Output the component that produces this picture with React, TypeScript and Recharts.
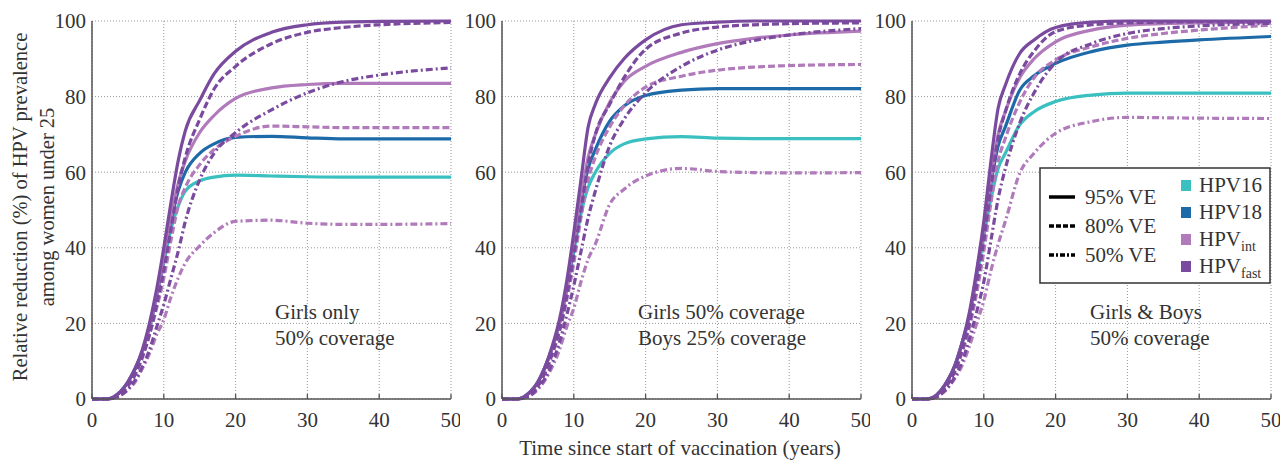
import React from "react";
import {
  LineChart,
  Line,
  XAxis,
  YAxis,
  CartesianGrid,
  Legend,
} from "recharts";

// sample years (x axis)
const years = [0, 2, 3, 4, 5, 6, 7, 8, 9, 10, 11, 12, 13, 15, 17, 20, 25, 30, 35, 40, 50];

// Panel 1 – Girls only, 50% coverage
const p1FastSolid = [0, 0, 0.5, 2, 4.5, 8, 13, 20, 29, 40, 52, 63, 71, 79, 86, 92, 97, 99, 99.7, 99.9, 100];
const p1FastDash = [0, 0, 0.3, 1.5, 3.5, 6.5, 11, 17, 25, 34, 45, 56, 64, 74, 82, 88, 94, 97, 98.3, 99, 99.6];
const p1FastDot = [0, 0, 0.2, 1, 2.5, 5, 8.5, 13, 19, 25, 32, 39, 47, 58, 65, 70.5, 76.5, 81, 84, 85.7, 87.6];
const p1IntSolid = [0, 0, 0.5, 2, 4.5, 8, 12.5, 19, 27, 37, 48, 57, 63, 70.5, 75, 79.5, 82.3, 83.2, 83.5, 83.5, 83.5];
const p1IntDash = [0, 0, 0.3, 1.5, 3.5, 6.5, 11, 17, 24, 32, 42, 51, 56, 62, 66, 69.5, 72.2, 72, 71.8, 71.8, 71.8];
const p1IntDot = [0, 0, 0.2, 1, 2.5, 4.5, 8, 12, 17, 21, 27, 32, 36, 40.5, 44, 47, 47.3, 46.5, 46.2, 46.2, 46.4];
const p1Hpv18 = [0, 0, 0.5, 2, 4.5, 8, 12.5, 19, 27, 37, 47, 55, 60, 65, 67.5, 69.2, 69.5, 69.1, 68.8, 68.8, 68.8];
const p1Hpv16 = [0, 0, 0.5, 2, 4.5, 8, 12.5, 19, 27, 36, 45, 51, 55, 57.7, 58.7, 59.2, 59, 58.8, 58.7, 58.7, 58.7];

// Panel 2 – Girls 50%, Boys 25% coverage
const p2FastSolid = [0, 0, 0.5, 2, 4.5, 8.5, 14, 21, 31, 44, 58, 72, 78, 85, 90, 95, 99, 99.7, 100, 100, 100];
const p2FastDash = [0, 0, 0.3, 1.5, 3.5, 7, 12, 18, 27, 38, 50, 62, 70, 78, 85, 92.5, 96.8, 98.4, 99, 99.3, 99.5];
const p2FastDot = [0, 0, 0.2, 1, 3, 5.5, 9.5, 15, 22, 30, 39, 48, 55, 67, 74, 81, 88, 92.3, 94.8, 96.3, 98];
const p2IntSolid = [0, 0, 0.5, 2, 4.5, 8.5, 13.5, 20, 29, 41, 53, 64, 70, 78.5, 84, 88, 91.7, 94, 95.4, 96.3, 97.3];
const p2IntDash = [0, 0, 0.3, 1.5, 3.5, 7, 12, 18, 26, 36, 48, 58, 64, 72, 77.5, 82.5, 85.4, 87, 87.8, 88.2, 88.5];
const p2IntDot = [0, 0, 0.2, 1, 2.5, 5, 8.5, 13, 19, 24, 31, 37, 41, 51.5, 55.5, 59, 61, 60.2, 59.9, 59.8, 59.9];
const p2Hpv18 = [0, 0, 0.5, 2, 4.5, 8.5, 13.5, 20, 29, 40, 52, 61, 66, 73.5, 77.5, 80.3, 81.7, 82.1, 82.1, 82.1, 82.1];
const p2Hpv16 = [0, 0, 0.5, 2, 4.5, 8.5, 13.5, 20, 29, 39, 49, 56, 60, 65, 67.5, 68.8, 69.4, 69, 68.9, 68.9, 68.9];

// Panel 3 – Girls & Boys, 50% coverage
const p3FastSolid = [0, 0, 0.5, 2.2, 5, 9, 15, 23, 34, 47, 63, 77, 83, 91.4, 95, 98.3, 99.7, 100, 100, 100, 100];
const p3FastDash = [0, 0, 0.3, 1.6, 4, 7.5, 13, 20, 30, 42, 56, 69, 76, 86, 92, 97.2, 99, 99.5, 99.7, 99.8, 99.8];
const p3FastDot = [0, 0, 0.2, 1.2, 3, 6, 10, 16, 23, 31, 42, 53, 61, 73, 81, 89, 94, 96.7, 98, 98.7, 99.4];
const p3IntSolid = [0, 0, 0.5, 2.2, 5, 9, 15, 22, 33, 45, 58, 70, 76, 85, 90, 94.5, 97.6, 98.9, 99.3, 99.5, 99.7];
const p3IntDash = [0, 0, 0.3, 1.6, 4, 7.5, 12.5, 19, 28, 39, 52, 63, 69, 78.5, 85, 89.7, 93.2, 95.4, 96.7, 97.6, 98.9];
const p3IntDot = [0, 0, 0.2, 1.2, 3, 5.5, 9, 14, 20, 26, 34, 41, 47, 59.7, 65, 70.3, 73.4, 74.5, 74.4, 74.3, 74.2];
const p3Hpv18 = [0, 0, 0.5, 2.2, 5, 9, 15, 22, 33, 45, 57, 67, 72, 81.7, 85.5, 88.8, 91.9, 93.6, 94.4, 95, 95.9];
const p3Hpv16 = [0, 0, 0.5, 2.2, 5, 9, 15, 22, 32, 43, 53, 61, 65, 72.5, 76, 78.7, 80.4, 80.9, 80.9, 80.9, 80.9];

const xTicks = [0, 10, 20, 30, 40, 50];
const yTicks = [0, 20, 40, 60, 80, 100];

const veLabels = ["95% VE", "80% VE", "50% VE"];
const typeLabels = [
  { base: "HPV16", sub: "" },
  { base: "HPV18", sub: "" },
  { base: "HPV", sub: "int" },
  { base: "HPV", sub: "fast" },
];

const C16 = "#3ac0c0";
const C18 = "#1d6aa8";
const CINT = "#b07abb";
const CFAST = "#7a4a9e";
const TYPE_COLORS = [C16, C18, CINT, CFAST];

const DASH = ["", "7 3", "7 3 2 3"];
const FONT = "Liberation Serif, serif";
const FS = 21;
const TEXT = "#333";
const AXIS = "#555";

const buildRows = (s: number[][]) =>
  years.map((year, i) => ({
    year,
    hpv16: s[0][i],
    hpv18: s[1][i],
    intDot: s[2][i],
    intDash: s[3][i],
    intSolid: s[4][i],
    fastDot: s[5][i],
    fastDash: s[6][i],
    fastSolid: s[7][i],
  }));

const panels = [
  {
    rows: buildRows([p1Hpv16, p1Hpv18, p1IntDot, p1IntDash, p1IntSolid, p1FastDot, p1FastDash, p1FastSolid]),
    left: 40,
    note: ["Girls only", "50% coverage"],
    noteX: 235,
  },
  {
    rows: buildRows([p2Hpv16, p2Hpv18, p2IntDot, p2IntDash, p2IntSolid, p2FastDot, p2FastDash, p2FastSolid]),
    left: 450,
    note: ["Girls 50% coverage", "Boys 25% coverage"],
    noteX: 188,
  },
  {
    rows: buildRows([p3Hpv16, p3Hpv18, p3IntDot, p3IntDash, p3IntSolid, p3FastDot, p3FastDash, p3FastSolid]),
    left: 860,
    note: ["Girls & Boys", "50% coverage"],
    noteX: 230,
    legend: true,
  },
];

const series = [
  { key: "hpv16", color: C16, dash: DASH[0] },
  { key: "hpv18", color: C18, dash: DASH[0] },
  { key: "intDot", color: CINT, dash: DASH[2] },
  { key: "intDash", color: CINT, dash: DASH[1] },
  { key: "intSolid", color: CINT, dash: DASH[0] },
  { key: "fastDot", color: CFAST, dash: DASH[2] },
  { key: "fastDash", color: CFAST, dash: DASH[1] },
  { key: "fastSolid", color: CFAST, dash: DASH[0] },
];

function XTick({ x, y, payload }: any) {
  return (
    <g>
      <line x1={x} x2={x} y1={y} y2={y - 5} stroke={AXIS} strokeWidth={1.3} />
      <text x={x} y={y + 28} textAnchor="middle" fill={TEXT} fontSize={FS} style={{ fontFamily: FONT }}>
        {payload.value}
      </text>
    </g>
  );
}

function LegendBox() {
  return (
    <svg width={232} height={117} style={{ fontFamily: FONT }}>
      <rect x={1} y={1} width={230} height={115} fill="#fff" stroke="#333" strokeWidth={1.5} />
      {veLabels.map((label, i) => (
        <g key={label}>
          <line
            x1={10}
            x2={36}
            y1={30 + i * 29}
            y2={30 + i * 29}
            stroke="#000"
            strokeWidth={3.5}
            strokeDasharray={DASH[i] ? "5 2" + (i === 2 ? " 2 2" : "") : undefined}
          />
          <text x={46} y={37 + i * 29} fontSize={FS} fill={TEXT}>
            {label}
          </text>
        </g>
      ))}
      {typeLabels.map((t, i) => (
        <g key={t.base + t.sub}>
          <rect x={142} y={13 + i * 27} width={10} height={11} fill={TYPE_COLORS[i]} />
          <text x={160} y={25 + i * 27} fontSize={FS} fill={TEXT}>
            {t.base}
            {t.sub && (
              <tspan fontSize={14} dy={5}>
                {t.sub}
              </tspan>
            )}
          </text>
        </g>
      ))}
    </svg>
  );
}

export default function App() {
  return (
    <div
      style={{
        position: "absolute",
        left: 0,
        top: 0,
        width: 1285,
        height: 460,
        background: "#fff",
        fontFamily: FONT,
      }}
    >
      {panels.map((p, idx) => (
        <div key={idx} style={{ position: "absolute", left: p.left, top: 0 }}>
          <LineChart
            width={420}
            height={460}
            data={p.rows}
            margin={{ top: 21, right: 9, bottom: 31, left: 0 }}
            style={{ fontFamily: FONT }}
          >
            <CartesianGrid stroke="#999" strokeDasharray="1 2" strokeWidth={1} />
            <XAxis
              dataKey="year"
              type="number"
              domain={[0, 50]}
              ticks={xTicks}
              height={30}
              tickSize={0}
              tickMargin={0}
              tickLine={false}
              axisLine={{ stroke: AXIS, strokeWidth: 1.5 }}
              tick={<XTick />}
              interval={0}
            />
            <YAxis
              type="number"
              domain={[0, 100]}
              ticks={yTicks}
              width={52}
              tickSize={0}
              tickMargin={6}
              tickLine={false}
              axisLine={{ stroke: AXIS, strokeWidth: 1.5 }}
              tick={{ fill: TEXT, fontSize: FS, style: { fontFamily: FONT } }}
              interval={0}
            />
            {series.map((s) => (
              <Line
                key={s.key}
                dataKey={s.key}
                type="monotone"
                stroke={s.color}
                strokeWidth={3.2}
                strokeDasharray={s.dash || undefined}
                dot={false}
                activeDot={false}
                isAnimationActive={false}
              />
            ))}
            {p.legend && (
              <Legend
                layout="horizontal"
                verticalAlign="middle"
                align="center"
                width={232}
                height={117}
                wrapperStyle={{ left: 179, top: 167, width: 232, height: 117 }}
                content={() => <LegendBox />}
              />
            )}
          </LineChart>
          <svg
            width={420}
            height={460}
            style={{ position: "absolute", left: 0, top: 0, pointerEvents: "none", fontFamily: FONT }}
          >
            {p.note.map((t, i) => (
              <text key={t} x={p.noteX} y={319 + i * 26} fontSize={FS} fill={TEXT}>
                {t}
              </text>
            ))}
          </svg>
        </div>
      ))}
      <svg
        width={1285}
        height={460}
        style={{ position: "absolute", left: 0, top: 0, pointerEvents: "none", fontFamily: FONT }}
      >
        <text transform="translate(27,207) rotate(-90)" textAnchor="middle" fontSize={20.5} fill={TEXT}>
          Relative reduction (%) of HPV prevalence
        </text>
        <text transform="translate(54,207) rotate(-90)" textAnchor="middle" fontSize={20.5} fill={TEXT}>
          among women under 25
        </text>
        <text x={680} y={455} textAnchor="middle" fontSize={FS} fill={TEXT}>
          Time since start of vaccination (years)
        </text>
      </svg>
    </div>
  );
}
